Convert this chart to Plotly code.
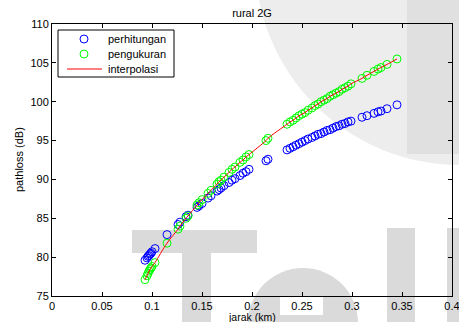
import plotly.graph_objects as go

# ---- data ----
jarak_km = [0.093, 0.095, 0.096, 0.097, 0.098, 0.099, 0.100, 0.103, 0.115, 0.126,
            0.128, 0.134, 0.136, 0.145, 0.147, 0.150, 0.156, 0.159, 0.165, 0.167,
            0.169, 0.172, 0.177, 0.180, 0.183, 0.188, 0.191, 0.194, 0.197, 0.214,
            0.216, 0.235, 0.238, 0.241, 0.244, 0.247, 0.250, 0.253, 0.256, 0.260,
            0.263, 0.266, 0.269, 0.272, 0.275, 0.278, 0.281, 0.284, 0.287, 0.290,
            0.293, 0.296, 0.299, 0.310, 0.315, 0.322, 0.326, 0.329, 0.335, 0.345]
pengukuran = [77.1, 77.6, 77.9, 78.2, 78.4, 78.6, 78.8, 79.3, 81.8, 83.6,
              84.0, 85.0, 85.3, 86.7, 87.0, 87.4, 88.2, 88.6, 89.4, 89.7,
              89.9, 90.3, 90.9, 91.3, 91.6, 92.2, 92.5, 92.9, 93.2, 95.0,
              95.3, 97.1, 97.4, 97.6, 97.9, 98.2, 98.4, 98.6, 98.9, 99.2,
              99.5, 99.7, 100.0, 100.2, 100.4, 100.7, 100.9, 101.1, 101.3, 101.6,
              101.8, 102.0, 102.3, 103.0, 103.4, 103.9, 104.2, 104.4, 104.8, 105.5]
perhitungan = [79.6, 79.9, 80.1, 80.2, 80.4, 80.5, 80.7, 81.1, 82.9, 84.2,
               84.5, 85.2, 85.4, 86.4, 86.6, 86.9, 87.6, 87.9, 88.5, 88.7,
               88.9, 89.2, 89.6, 89.9, 90.1, 90.5, 90.8, 91.0, 91.3, 92.4,
               92.6, 93.8, 94.0, 94.2, 94.4, 94.6, 94.8, 95.0, 95.2, 95.4,
               95.6, 95.8, 95.9, 96.1, 96.3, 96.4, 96.6, 96.8, 96.9, 97.1,
               97.2, 97.4, 97.5, 98.0, 98.2, 98.5, 98.7, 98.8, 99.1, 99.6]
series_names = ["perhitungan", "pengukuran", "interpolasi"]
x_ticks = [0, 0.05, 0.1, 0.15, 0.2, 0.25, 0.3, 0.35, 0.4]
x_tick_labels = ["0", "0.05", "0.1", "0.15", "0.2", "0.25", "0.3", "0.35", "0.4"]
y_ticks = [75, 80, 85, 90, 95, 100, 105, 110]

FONT = "Liberation Sans, Arial, sans-serif"
W, H = 459, 322
L, R, T, B = 52, 452, 24, 296  # plot area in pixels
BLUE, GREEN, RED = "#0000ff", "#00ff00", "#ff0000"


def px(x):
    return (x - L) / (R - L)


def py(y):
    return (B - y) / (B - T)


fig = go.Figure()
fig.add_trace(go.Scatter(x=jarak_km, y=perhitungan, mode="markers", name=series_names[0],
                         marker=dict(symbol="circle-open", size=8, color=BLUE,
                                     line=dict(width=1, color=BLUE))))
fig.add_trace(go.Scatter(x=jarak_km, y=pengukuran, mode="markers", name=series_names[1],
                         marker=dict(symbol="circle-open", size=8, color=GREEN,
                                     line=dict(width=1, color=GREEN))))
fig.add_trace(go.Scatter(x=jarak_km, y=pengukuran, mode="lines", name=series_names[2],
                         line=dict(color=RED, width=1, shape="spline")))

# watermark shapes (background)
shapes = []
light = "#ededed"
dark = "#e0e0e0"
letter = "#dadada"


def prect(x0, x1, y0, y1, color, layer="below", line=None):
    return dict(type="rect", xref="paper", yref="paper", layer=layer,
                x0=px(x0), x1=px(x1), y0=py(y1), y1=py(y0),
                fillcolor=color, line=line or dict(width=0))


def pcircle(x0, x1, y0, y1, color, layer="below", line=None):
    return dict(type="circle", xref="paper", yref="paper", layer=layer,
                x0=px(x0), x1=px(x1), y0=py(y1), y1=py(y0),
                fillcolor=color, line=line or dict(width=0))


shapes.append(pcircle(255, 665, -245, 165, light))
shapes.append(prect(407, 470, -5, 154, dark))
# T
shapes.append(prect(132, 257, 230, 253, letter))
shapes.append(prect(182, 211, 253, 330, letter))
# e
shapes.append(pcircle(248, 358, 268, 378, letter))
shapes.append(prect(280, 323, 296, 315, "#ffffff"))
# l
shapes.append(prect(387, 415, 228, 330, letter))
shapes.append(prect(447, 470, 228, 330, letter))

# legend (drawn on top of the data)
shapes.append(prect(58, 174, 30, 77, "white", layer="above",
                    line=dict(color="black", width=1)))
shapes.append(pcircle(80, 88, 35, 43, "rgba(0,0,0,0)", layer="above",
                      line=dict(color=BLUE, width=1)))
shapes.append(pcircle(80, 88, 50, 58, "rgba(0,0,0,0)", layer="above",
                      line=dict(color=GREEN, width=1)))
shapes.append(dict(type="line", xref="paper", yref="paper", layer="above",
                   x0=px(67), x1=px(102), y0=py(69), y1=py(69),
                   line=dict(color=RED, width=1)))

axis_common = dict(showgrid=False, zeroline=False, showline=True, linecolor="black",
                   linewidth=1, mirror="allticks", ticks="inside", ticklen=4,
                   tickcolor="black", automargin=False, ticklabeloverflow="allow",
                   tickfont=dict(family=FONT, size=11, color="black"))

title_font = dict(family=FONT, size=11, color="black")
annotations = [
    dict(text="jarak (km)", xref="paper", yref="paper", x=px((L + R) / 2), y=py(316.5),
         xanchor="center", yanchor="middle", showarrow=False,
         font=dict(family=FONT, size=10.5, color="black")),
    dict(text="pathloss (dB)", xref="paper", yref="paper", x=px(19), y=py((T + B) / 2),
         xanchor="center", yanchor="middle", showarrow=False, textangle=-90, font=title_font),
]
for name, yc in zip(series_names, [39, 54, 69]):
    annotations.append(dict(text=name, xref="paper", yref="paper", x=px(106), y=py(yc),
                            xanchor="left", yanchor="middle", showarrow=False,
                            font=title_font))

fig.update_layout(
    width=W, height=H,
    margin=dict(l=L, r=W - R, t=T, b=H - B, autoexpand=False),
    paper_bgcolor="rgba(255,255,255,1)",
    plot_bgcolor="rgba(0,0,0,0)",
    shapes=shapes,
    annotations=annotations,
    title=dict(text="rural 2G", x=(L + R) / 2 / W, xanchor="center", y=1 - 13 / H,
               yanchor="middle", font=title_font),
    xaxis=dict(range=[0, 0.4], tickvals=x_ticks, ticktext=x_tick_labels, **axis_common),
    yaxis=dict(range=[75, 110], tickvals=y_ticks, **axis_common),
    showlegend=False,
)

fig.write_html("out.html", config={"displayModeBar": False},
               post_script="document.body.style.margin='0';document.body.style.overflow='hidden';")
